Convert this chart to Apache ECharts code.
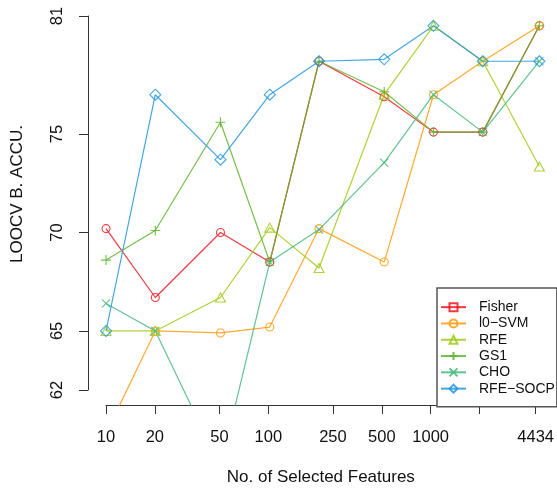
<!DOCTYPE html>
<html>
<head>
<meta charset="utf-8">
<script src="https://cdn.jsdelivr.net/npm/echarts@6/dist/echarts.min.js"></script>
<style>
  html, body { margin: 0; padding: 0; background: #fff; }
  #chart { width: 557px; height: 491px; }
</style>
</head>
<body>
<div id="chart"></div>
<script>
// number of selected features (x, log scale)
var features = [10, 20, 50, 100, 200, 500, 1000, 2000, 4434];
var xTicks = [10, 20, 50, 100, 250, 500, 1000, 2000, 4434];
var xLabels = [10, 20, 50, 100, 250, 500, 1000, 4434];
var yTicks = [62, 65, 70, 75, 81];

// LOOCV balanced accuracy per method
var fisher  = [70.2, 66.7, 70.0, 68.5, 78.7, 76.9, 75.1, 75.1, 80.5];
var l0svm   = [59.8, 65.0, 64.9, 65.2, 70.2, 68.5, 77.0, 78.7, 80.5];
var rfe     = [65.0, 65.0, 66.7, 70.25, 68.2, 77.0, 80.5, 78.7, 73.35];
var gs1     = [68.6, 70.1, 75.6, 68.5, 78.7, 77.15, 75.1, 75.1, 80.5];
var cho     = [66.4, 65.0, 58.1, 68.5, 70.15, 73.55, 77.0, 75.1, 78.7];
var rfesocp = [65.0, 77.0, 73.7, 77.0, 78.7, 78.8, 80.5, 78.7, 78.7];

var font = 'Liberation Sans, Arial, Helvetica, sans-serif';
var lg = function (v) { return Math.log10(v); };

// R style plot region: 4% padding round the data range
var xlo = lg(10), xhi = lg(4434);
var xpad = (xhi - xlo) * 0.04;
var ypad = (81 - 62) * 0.04;

function pts(vals, sym) {
  return vals.map(function (v, i) {
    var d = { value: [lg(features[i]), v] };
    if (sym) d.symbol = sym;
    return d;
  });
}

function mk(name, vals, color, symbol, size, itemSym) {
  return {
    name: name,
    type: 'line',
    xAxisIndex: 0,
    yAxisIndex: 0,
    data: pts(vals, itemSym),
    symbol: symbol,
    symbolSize: size,
    symbolKeepAspect: false,
    showAllSymbol: true,
    animation: false,
    lineStyle: { color: color, width: 1.2 },
    itemStyle: { color: 'rgba(0,0,0,0)', borderColor: color, borderWidth: 1.1 },
    emphasis: { disabled: true }
  };
}

var plusPath = 'path://M5,0L5,10M0,5L10,5';
var crossPath = 'path://M0,0L10,10M10,0L0,10';

var chart = echarts.init(document.getElementById('chart'));
chart.setOption({
  backgroundColor: '#fff',
  animation: false,
  textStyle: { fontFamily: font },
  grid: [
    { left: 88.7, right: 0.3, top: 1, bottom: 86, containLabel: false },
    { left: 106, right: 17.6, top: 16, bottom: 101, containLabel: false }
  ],
  xAxis: [
    { type: 'value', gridIndex: 0, min: xlo - xpad, max: xhi + xpad, show: false },
    {
      type: 'value', gridIndex: 1, min: xlo, max: xhi, offset: 15,
      axisLine: { show: true, lineStyle: { color: '#333', width: 1 } },
      axisTick: { show: true, length: 9, customValues: xTicks.map(lg), lineStyle: { color: '#333' } },
      axisLabel: {
        customValues: xLabels.map(lg), margin: 24, fontSize: 16.5, color: '#111', fontFamily: font,
        formatter: function (v) { return String(Math.round(Math.pow(10, v))); }
      },
      splitLine: { show: false },
      name: 'No. of Selected Features', nameLocation: 'middle', nameGap: 64,
      nameTextStyle: { fontSize: 17, color: '#111', fontFamily: font }
    }
  ],
  yAxis: [
    { type: 'value', gridIndex: 0, min: 62 - ypad, max: 81 + ypad, show: false },
    {
      type: 'value', gridIndex: 1, min: 62, max: 81, offset: 18,
      axisLine: { show: true, lineStyle: { color: '#333', width: 1 } },
      axisTick: { show: true, length: 9, customValues: yTicks, lineStyle: { color: '#333' } },
      axisLabel: { customValues: yTicks, rotate: 90, margin: 22, fontSize: 16.5, color: '#111', fontFamily: font },
      splitLine: { show: false },
      name: 'LOOCV B. ACCU.', nameLocation: 'middle', nameGap: 62,
      nameTextStyle: { fontSize: 17, color: '#111', fontFamily: font, padding: [0, 0, 0, 18] }
    }
  ],
  legend: {
    orient: 'vertical',
    left: 437, top: 288,
    padding: [11, 2, 10, 3],
    itemWidth: 25, itemHeight: 10, itemGap: 0,
    backgroundColor: '#fff',
    borderColor: '#555', borderWidth: 1.5, borderRadius: 0,
    textStyle: { fontSize: 14, lineHeight: 16.3, color: '#111', fontFamily: font, padding: [0, 0, 0, 8] },
    selectedMode: false,
    data: ['Fisher', 'l0\u2212SVM', 'RFE', 'GS1', 'CHO', 'RFE\u2212SOCP']
  },
  series: [
    mk('Fisher', fisher, 'rgba(240,22,30,0.85)', 'rect', 8, 'circle'),
    mk('l0\u2212SVM', l0svm, 'rgba(255,160,25,0.9)', 'circle', 8),
    mk('RFE', rfe, 'rgba(165,205,35,0.9)', 'triangle', [10, 9]),
    mk('GS1', gs1, 'rgba(95,180,45,0.85)', plusPath, 10),
    mk('CHO', cho, 'rgba(70,185,125,0.85)', crossPath, 8),
    mk('RFE\u2212SOCP', rfesocp, 'rgba(35,150,220,0.85)', 'diamond', 11)
  ]
});
window.addEventListener('resize', function () { chart.resize(); });
</script>
</body>
</html>
